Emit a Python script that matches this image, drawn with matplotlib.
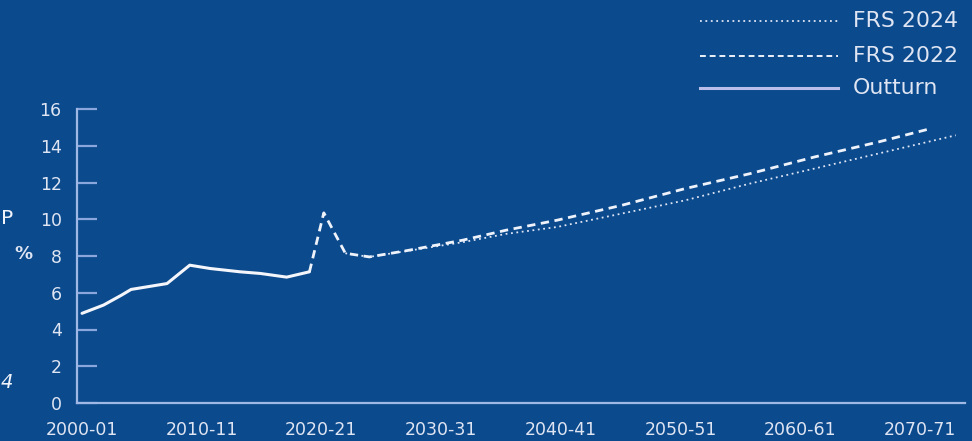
import matplotlib
matplotlib.use("Agg")
import matplotlib.pyplot as plt

# ---- data ----
outturn_years = [2000, 2001.8, 2003.3, 2004.1, 2007.1, 2009.0, 2010.7, 2013.2, 2014.9, 2017.1, 2019.0]
outturn_vals  = [4.88, 5.33, 5.87, 6.18, 6.50, 7.50, 7.32, 7.14, 7.05, 6.85, 7.14]

frs2022_years = [2019.0, 2020.2, 2022.0, 2024.0, 2027.2, 2031.8, 2035.4, 2039.7, 2045.1, 2050.4, 2055.8, 2061.2, 2066.5, 2071.0]
frs2022_vals  = [7.14, 10.35, 8.15, 7.95, 8.30, 8.86, 9.40, 9.95, 10.76, 11.67, 12.48, 13.39, 14.20, 14.95]

frs2024_years = [2022.0, 2024.0, 2027.2, 2031.8, 2035.4, 2039.7, 2045.1, 2050.4, 2055.8, 2061.2, 2066.5, 2073.0]
frs2024_vals  = [8.15, 7.95, 8.28, 8.75, 9.20, 9.58, 10.31, 11.03, 11.94, 12.76, 13.57, 14.57]

xtick_years  = [2000, 2010, 2020, 2030, 2040, 2050, 2060, 2070]
xtick_labels = ["2000-01", "2010-11", "2020-21", "2030-31", "2040-41", "2050-51", "2060-61", "2070-71"]
yticks = [0, 2, 4, 6, 8, 10, 12, 14, 16]

BG = "#0b4a8c"
TXT = "#dfe5f3"
AX = "#9fb8e6"

W, H = 972, 441
fig = plt.figure(figsize=(W / 100, H / 100), dpi=100, facecolor=BG)
ax = fig.add_axes([77 / W, 1 - 403 / H, (965 - 77) / W, (403 - 109) / H], facecolor=BG)

ax.plot(frs2024_years, frs2024_vals, color="#dfe6f7", lw=1.3, ls=(0, (1, 2)))
ax.plot(frs2022_years, frs2022_vals, color="#eef2fb", lw=2.0, ls=(0, (3, 2)))
ax.plot(outturn_years, outturn_vals, color="#f4f6fc", lw=2.2, solid_capstyle="round")

ax.set_xlim(1999.58, 2073.77)
ax.set_ylim(0, 16)

for s in ["top", "right"]:
    ax.spines[s].set_visible(False)
for s in ["left", "bottom"]:
    ax.spines[s].set_color(AX)
    ax.spines[s].set_linewidth(1.6)

ax.set_yticks(yticks)
ax.set_yticklabels([str(v) for v in yticks])
ax.tick_params(axis="y", direction="in", length=14.5, width=1.6, color="#8aa6dc",
               labelcolor=TXT, labelsize=12.5, pad=11)
ax.set_xticks(xtick_years)
ax.set_xticklabels(xtick_labels)
ax.tick_params(axis="x", length=0, labelcolor=TXT, labelsize=12.5, pad=13)

# Legend drawn in figure pixel coords
legend_items = [("FRS 2024", 21, (0, (1, 2)), 1.3, "#dfe6f7"),
                ("FRS 2022", 56, (0, (3, 2)), 1.4, "#eef2fb"),
                ("Outturn", 88, "-", 2.2, "#b9bfea")]
for label, ypx, ls, lw, col in legend_items:
    yf = 1 - ypx / H
    fig.add_artist(plt.Line2D([700 / W, 838 / W], [yf, yf], color=col, lw=lw, ls=ls))
    fig.text(853 / W, yf, label, color=TXT, fontsize=15.8, va="center", ha="left")

# cut-off text fragments at the left edge
fig.text(1 / W, 1 - 219 / H, "P", color="#f2f4fb", fontsize=14.5, va="center", ha="left")
fig.text(14 / W, 1 - 254 / H, "%", color=TXT, fontsize=13, va="center", ha="left", fontweight="bold")
fig.text(1 / W, 1 - 382 / H, "4", color="#f2f4fb", fontsize=14, va="center", ha="left", style="italic")

fig.savefig("out.png", dpi=100, facecolor=BG)
